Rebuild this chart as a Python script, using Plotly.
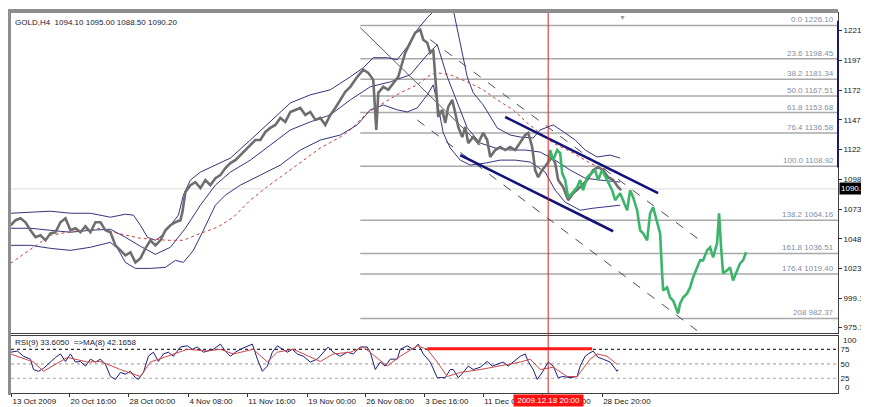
import plotly.graph_objects as go

# ---------------- data (bar index = H4 bar position on chart) ----------------
gray_x = [0, 5, 10, 15, 20, 25, 30, 35, 40, 45, 50, 55, 60, 65, 70, 75, 80, 85, 90, 95, 100,
          105, 110, 115, 120, 125, 130, 135, 140, 145, 150, 155, 160, 165, 170, 172, 175, 180,
          185, 190, 195, 200, 205, 210, 215, 220, 225, 230, 235, 240, 245, 250, 255, 260, 265,
          270, 275, 280, 285, 290, 295, 300, 305, 310, 315, 320, 325, 330, 335, 340, 347, 353,
          358, 363, 366, 368, 373, 378, 383, 388, 392, 395, 400, 405, 410, 413, 417, 420, 423,
          426, 428, 432, 435, 438, 442, 445, 448, 452, 455, 458, 463, 468, 473, 477, 480, 485,
          490, 495, 500, 505, 510, 515, 518, 522, 525, 528, 532, 537, 542, 545, 548, 553, 558,
          563, 570, 577, 583, 588, 593, 598, 603, 608, 611]
gray_y = [1059.9, 1064.1, 1065.7, 1062.4, 1055.7, 1049.9, 1051.6, 1047.4, 1053.2, 1054.1, 1062.4,
          1065.7, 1055.7, 1057.4, 1054.1, 1059.1, 1054.1, 1062.4, 1062.4, 1055.7, 1054.1, 1043.2,
          1039.0, 1034.9, 1037.4, 1029.0, 1032.4, 1040.7, 1047.4, 1043.2, 1047.4, 1055.7, 1059.9,
          1062.4, 1064.1, 1070.8, 1087.5, 1093.3, 1095.8, 1090.8, 1097.5, 1093.3, 1099.1, 1101.6,
          1107.5, 1111.6, 1114.1, 1118.3, 1122.5, 1126.7, 1130.8, 1130.8, 1137.5, 1140.9, 1143.4,
          1149.2, 1145.9, 1154.2, 1155.9, 1157.5, 1151.7, 1154.2, 1147.5, 1149.2, 1143.4, 1151.7,
          1157.5, 1164.2, 1170.9, 1175.1, 1183.4, 1189.3, 1186.7, 1180.9, 1139.2, 1170.1, 1175.1,
          1172.6, 1178.4, 1183.4, 1195.1, 1203.4, 1211.8, 1220.1, 1222.6, 1214.3, 1211.8, 1203.4,
          1206.0, 1172.6, 1150.0, 1155.9, 1145.0, 1158.4, 1164.2, 1153.4, 1141.7, 1133.3, 1141.7,
          1128.3, 1133.3, 1128.3, 1136.7, 1130.8, 1116.7, 1122.5, 1125.0, 1122.5, 1125.0, 1122.5,
          1128.3, 1135.0, 1136.7, 1125.0, 1105.8, 1099.9, 1105.8, 1111.6, 1116.7, 1111.6, 1097.5,
          1091.6, 1080.8, 1086.6, 1091.6, 1097.5, 1105.8, 1108.3, 1105.8, 1099.9, 1097.5, 1091.6,
          1089.1]

green_x = [538, 540, 543, 547, 550, 552, 555, 558, 562, 567, 570, 573, 577, 582, 585, 588, 592,
           597, 600, 602, 605, 610, 617, 620, 623, 627, 630, 633, 637, 640, 643, 647, 650, 652,
           653, 657, 660, 663, 667, 668, 670, 673, 677, 680, 683, 687, 690, 693, 697, 700, 703,
           707, 709, 711, 713, 717, 720, 723, 727, 730, 733, 736]
green_y = [1111.6, 1122.5, 1114.1, 1122.5, 1120.0, 1103.3, 1097.5, 1083.3, 1086.6, 1091.6, 1097.5,
           1089.1, 1099.9, 1103.3, 1105.8, 1097.5, 1105.8, 1097.5, 1091.6, 1089.1, 1080.8, 1086.6,
           1072.4, 1089.1, 1083.3, 1072.4, 1055.7, 1053.2, 1047.4, 1069.9, 1074.9, 1061.6, 1053.2,
           1019.9, 1005.7, 1008.2, 999.8, 997.3, 989.0, 986.5, 994.8, 999.8, 1003.2, 1008.2,
           1016.5, 1024.9, 1030.7, 1030.7, 1039.0, 1041.6, 1033.2, 1044.9, 1069.9, 1041.6, 1019.9,
           1022.4, 1024.9, 1014.0, 1022.4, 1028.2, 1030.7, 1037.4]

bb_up_x = [0, 20, 40, 60, 80, 100, 115, 123, 130, 137, 145, 152, 160, 168, 173, 180, 190, 205,
           220, 240, 260, 280, 300, 320, 340, 353, 363, 377, 387, 397, 407, 417, 427, 435, 443,
           447, 453, 457, 463, 473, 487, 500, 510, 523, 530, 543, 555, 565, 575, 587, 600, 610]
bb_up_y = [1069.9, 1070.8, 1071.6, 1069.9, 1069.9, 1066.6, 1069.1, 1068.3, 1059.9, 1049.9, 1047.4,
           1051.6, 1059.9, 1068.3, 1085.0, 1097.5, 1104.1, 1110.0, 1115.8, 1130.8, 1145.9, 1161.7,
           1168.4, 1172.6, 1183.4, 1190.9, 1199.3, 1199.3, 1197.6, 1208.4, 1222.6, 1232.6, 1241.0,
           1247.7, 1239.3, 1222.6, 1200.1, 1183.4, 1170.1, 1160.0, 1140.9, 1135.0, 1133.3, 1132.5,
           1139.2, 1143.4, 1136.7, 1130.8, 1122.5, 1116.7, 1118.3, 1115.8]

bb_mid_x = [0, 20, 40, 60, 80, 100, 115, 130, 145, 160, 175, 190, 205, 220, 240, 260, 280, 300,
            320, 340, 360, 380, 400, 417, 427, 437, 447, 457, 470, 485, 500, 515, 530, 545, 560,
            575, 590, 610]
bb_mid_y = [1057.4, 1057.4, 1055.7, 1054.1, 1055.7, 1056.6, 1049.9, 1042.4, 1035.7, 1041.6, 1057.4,
            1076.6, 1093.3, 1104.1, 1114.1, 1126.7, 1139.2, 1145.9, 1151.7, 1164.2, 1175.1, 1179.2,
            1185.1, 1201.8, 1210.1, 1183.4, 1161.7, 1140.9, 1128.3, 1124.2, 1122.5, 1122.5, 1120.8,
            1114.1, 1105.8, 1099.1, 1097.5, 1095.8]

bb_low_x = [0, 20, 40, 60, 80, 100, 107, 115, 125, 140, 155, 165, 173, 183, 193, 205, 215, 230,
            250, 270, 290, 310, 330, 347, 360, 373, 387, 397, 407, 417, 423, 428, 433, 440, 450,
            460, 475, 490, 505, 520, 535, 545, 555, 570, 583, 593, 610]
bb_low_y = [1043.2, 1043.2, 1040.7, 1039.0, 1041.6, 1045.7, 1040.7, 1029.0, 1024.0, 1024.0, 1024.9,
            1030.7, 1029.0, 1039.0, 1055.7, 1076.6, 1085.0, 1093.3, 1101.6, 1110.0, 1122.5, 1130.8,
            1135.0, 1143.4, 1155.9, 1160.0, 1155.9, 1154.2, 1157.5, 1168.4, 1176.7, 1158.4, 1136.7,
            1124.2, 1114.1, 1110.0, 1111.6, 1114.1, 1114.1, 1112.5, 1104.1, 1089.1, 1079.1, 1072.4,
            1074.1, 1074.9, 1076.6]

ma_x = [0, 23, 40, 57, 90, 107, 130, 157, 173, 190, 207, 223, 240, 255, 270, 290, 310, 330, 340,
        357, 373, 390, 407, 420, 427, 440, 457, 473, 487, 503, 517, 530, 543, 563, 580, 590, 610]
ma_y = [1028.2, 1041.6, 1051.6, 1054.1, 1057.4, 1053.2, 1049.1, 1047.4, 1047.4, 1053.2, 1058.2,
        1066.6, 1080.8, 1090.8, 1099.9, 1112.5, 1124.2, 1133.3, 1139.2, 1153.4, 1161.7, 1170.1,
        1176.7, 1185.1, 1186.7, 1185.1, 1179.2, 1172.6, 1164.2, 1155.9, 1145.0, 1136.7, 1128.3,
        1120.0, 1111.6, 1107.5, 1104.1]

# Fibonacci retracement levels
fib_levels = ["0.0", "23.6", "38.2", "50.0", "61.8", "76.4", "100.0", "138.2", "161.8", "176.4", "208"]
fib_prices = [1226.10, 1198.45, 1181.34, 1167.51, 1153.68, 1136.58, 1108.92, 1064.16, 1036.51,
              1019.40, 982.37]
fib_start = 350

# channel / trend lines: (x0, y0, x1, y1)
channel_thick = [(495, 1150.0, 648, 1086.6), (450, 1118.3, 603, 1054.9)]
channel_dashed = [(420, 1214.3, 690, 1047.4), (407, 1147.5, 687, 972.3)]
trend_thin = [(350, 1224.3, 470, 1126.7)]

current_price = 1090.2
marker_bar = 538

price_ticks = [1221.8, 1197.1, 1172.3, 1147.6, 1122.8, 1098.1, 1073.3, 1048.6, 1023.8, 999.12, 975.12]
price_tick_text = ["1221.8", "1197.1", "1172.3", "1147.6", "1122.8", "1098.1", "1073.3", "1048.6",
                   "1023.8", "999.12", "975.12"]

date_ticks = [1, 59, 118, 178, 237, 297, 355, 414, 473, 532, 592]
date_labels = ["13 Oct 2009", "20 Oct 16:00", "28 Oct 00:00", "4 Nov 08:00", "11 Nov 16:00",
               "19 Nov 00:00", "26 Nov 08:00", "3 Dec 16:00", "11 Dec 00:00", "18 Dec 12:00",
               "28 Dec 20:00"]

rsi_x = [0, 7, 13, 20, 23, 28, 33, 40, 45, 50, 55, 60, 65, 70, 75, 80, 85, 90, 95, 100, 105, 110,
         115, 120, 125, 128, 133, 138, 143, 148, 153, 158, 163, 170, 177, 182, 187, 193, 198, 203,
         210, 215, 220, 225, 230, 237, 242, 247, 252, 257, 262, 267, 272, 277, 282, 287, 293, 300,
         307, 312, 318, 323, 330, 337, 343, 350, 357, 360, 365, 370, 375, 380, 387, 390, 397, 403,
         408, 413, 420, 427, 435, 440, 443, 448, 453, 458, 463, 470, 477, 482, 487, 493, 498, 503,
         510, 515, 518, 523, 527, 532, 538, 543, 548, 553, 560, 567, 570, 575, 578, 583, 588, 593,
         600, 607, 608]
rsi_y = [70, 72, 63, 58, 40, 37, 42, 53, 61, 67, 54, 67, 53, 54, 46, 58, 53, 58, 49, 28, 23, 35,
         32, 37, 26, 23, 35, 63, 70, 54, 67, 70, 63, 79, 81, 75, 79, 70, 72, 75, 84, 72, 63, 70,
         75, 81, 84, 58, 37, 46, 70, 81, 75, 70, 75, 67, 63, 53, 58, 67, 79, 70, 63, 70, 67, 79,
         79, 70, 40, 53, 46, 58, 58, 75, 81, 75, 84, 67, 53, 26, 26, 40, 40, 26, 35, 46, 40, 44,
         54, 46, 49, 53, 46, 53, 63, 67, 54, 40, 23, 35, 53, 46, 26, 28, 26, 28, 46, 63, 67, 72,
         61, 58, 53, 37, 40]

rsi_ma_x = [0, 23, 33, 57, 77, 90, 110, 130, 140, 157, 177, 197, 210, 223, 243, 257, 267, 283,
            300, 310, 323, 340, 353, 377, 390, 407, 417, 427, 437, 450, 470, 490, 510, 520, 530,
            543, 557, 567, 580, 587, 597, 607]
rsi_ma_y = [67, 53, 37, 61, 53, 54, 40, 28, 53, 63, 75, 72, 75, 67, 75, 53, 70, 75, 61, 54, 67,
            70, 79, 46, 63, 81, 75, 53, 28, 35, 40, 46, 53, 58, 40, 44, 28, 28, 58, 67, 63, 49]

rsi_levels = [75, 50, 25]
rsi_red_level = (417, 582, 76)

# ---------------- figure ----------------
# the page adds an 8 px body margin, so the figure is 8 px smaller than the window
FONT = "Liberation Sans"
X_RANGE = [0.5, 828]
W, H = 861, 399
ML, MR, MT, MB = 3, 31, 5, 14
PW, PH = W - ML - MR, H - MT - MB
fig = go.Figure()

# fib horizontal lines
fx, fy = [], []
for p in fib_prices:
    fx += [fib_start, X_RANGE[1], None]
    fy += [p, p, None]
fig.add_trace(go.Scatter(x=fx, y=fy, mode="lines", line=dict(color="#a9a9a9", width=1.5),
                         hoverinfo="skip", showlegend=False))
# current price line
fig.add_trace(go.Scatter(x=[X_RANGE[0], X_RANGE[1]], y=[current_price, current_price], mode="lines",
                         line=dict(color="#dcdcdc", width=1), hoverinfo="skip", showlegend=False))

# bollinger & MA
for bx, by in [(bb_up_x, bb_up_y), (bb_mid_x, bb_mid_y), (bb_low_x, bb_low_y)]:
    fig.add_trace(go.Scatter(x=bx, y=by, mode="lines", line=dict(color="#34347e", width=1),
                             showlegend=False))
fig.add_trace(go.Scatter(x=ma_x, y=ma_y, mode="lines", line=dict(color="#c8413a", width=1, dash="dot"),
                         showlegend=False))

# trend lines
for (x0, y0, x1, y1) in trend_thin:
    fig.add_trace(go.Scatter(x=[x0, x1], y=[y0, y1], mode="lines", line=dict(color="#555566", width=1),
                             showlegend=False))
for (x0, y0, x1, y1) in channel_dashed:
    fig.add_trace(go.Scatter(x=[x0, x1], y=[y0, y1], mode="lines",
                             line=dict(color="#4a4a6a", width=1, dash="dash"), showlegend=False))

# price
fig.add_trace(go.Scatter(x=gray_x, y=gray_y, mode="lines", line=dict(color="#6e6e6e", width=2.6),
                         showlegend=False))
fig.add_trace(go.Scatter(x=green_x, y=green_y, mode="lines", line=dict(color="#3cb46a", width=2.6),
                         showlegend=False))

for (x0, y0, x1, y1) in channel_thick:
    fig.add_trace(go.Scatter(x=[x0, x1], y=[y0, y1], mode="lines", line=dict(color="#12127a", width=2.6),
                             showlegend=False))

# RSI panel
fig.add_trace(go.Scatter(x=rsi_x, y=rsi_y, mode="lines", line=dict(color="#1c1c7c", width=1),
                         xaxis="x2", yaxis="y2", showlegend=False))
fig.add_trace(go.Scatter(x=rsi_ma_x, y=rsi_ma_y, mode="lines", line=dict(color="#d04848", width=1),
                         xaxis="x2", yaxis="y2", showlegend=False))
fig.add_trace(go.Scatter(x=[rsi_red_level[0], rsi_red_level[1]], y=[rsi_red_level[2]] * 2, mode="lines",
                         line=dict(color="#ff1a1a", width=3), xaxis="x2", yaxis="y2", showlegend=False))

shapes = []
for i, lv in enumerate(rsi_levels):
    shapes.append(dict(type="line", xref="x2", yref="y2", x0=X_RANGE[0], x1=X_RANGE[1], y0=lv, y1=lv,
                       line=dict(color="#333333" if i == 0 else "#aaaaaa", width=1.2, dash="dot"),
                       layer="below"))
# red vertical marker line over both panels
shapes.append(dict(type="line", xref="x", yref="paper", x0=marker_bar, x1=marker_bar, y0=0, y1=1,
                   line=dict(color="#e02020", width=1)))
# window frame (top/left gray bars)
shapes.append(dict(type="line", xref="paper", yref="paper", x0=-3 / PW, x1=1.0, y0=1 + 2 / PH, y1=1 + 2 / PH,
                   line=dict(color="#8e8e8e", width=4)))
shapes.append(dict(type="line", xref="paper", yref="paper", x0=-1.5 / PW, x1=-1.5 / PW, y0=-2 / PH,
                   y1=1 + 4 / PH, line=dict(color="#8e8e8e", width=3)))
# navy selection bar on price scale
shapes.append(dict(type="line", xref="paper", yref="y", x0=1.0, x1=1.0, y0=1230, y1=1108,
                   line=dict(color="#1a1a70", width=2)))

annotations = []
for lv, p in zip(fib_levels, fib_prices):
    annotations.append(dict(x=X_RANGE[1] - 2, y=p, xref="x", yref="y", text=f"{lv} {p:.2f}",
                            showarrow=False, xanchor="right", yanchor="bottom", yshift=-1,
                            font=dict(family=FONT, size=8, color="#8090a4")))
annotations.append(dict(x=0, y=1, xref="paper", yref="paper", text="GOLD,H4  1094.10 1095.00 1088.50 1090.20",
                        showarrow=False, xanchor="left", yanchor="top", xshift=2, yshift=-3,
                        font=dict(family=FONT, size=8, color="#202040")))
annotations.append(dict(x=0, y=0.15, xref="paper", yref="paper", text="RSI(9) 33.6050  =>MA(8) 42.1658",
                        showarrow=False, xanchor="left", yanchor="top", xshift=2, yshift=0,
                        font=dict(family=FONT, size=8, color="#202040")))
annotations.append(dict(x=1, y=current_price, xref="paper", yref="y", text="1090.2",
                        showarrow=False, xanchor="left", yanchor="middle", xshift=1, bgcolor="#000000",
                        borderpad=1, font=dict(family=FONT, size=8, color="#ffffff")))
annotations.append(dict(x=marker_bar, y=0, xref="x", yref="paper", text=" 2009.12.18 20:00 ",
                        showarrow=False, xanchor="center", yanchor="top", yshift=-1, bgcolor="#ff1010",
                        borderpad=1, font=dict(family=FONT, size=8, color="#ffffff")))
annotations.append(dict(x=1, y=0.15, xref="paper", yref="paper", text="100", showarrow=False,
                        xanchor="left", yanchor="top", xshift=3, yshift=2,
                        font=dict(family=FONT, size=8, color="#202020")))
annotations.append(dict(x=1, y=0, xref="paper", yref="paper", text="0", showarrow=False,
                        xanchor="left", yanchor="bottom", xshift=5, yshift=-1,
                        font=dict(family=FONT, size=8, color="#202020")))
annotations.append(dict(x=612, y=1, xref="x", yref="paper", text="▼", showarrow=False,
                        yanchor="top", yshift=1, font=dict(family=FONT, size=7, color="#9a9a9a")))

axis_common = dict(showgrid=False, zeroline=False, showline=True, mirror=True, linecolor="#404040",
                   linewidth=1, automargin=False)
fig.update_layout(
    width=W, height=H,
    margin=dict(l=ML, r=MR, t=MT, b=MB),
    paper_bgcolor="#ffffff", plot_bgcolor="#ffffff",
    font=dict(family=FONT, size=8, color="#202020"),
    showlegend=False,
    xaxis=dict(domain=[0, 1], anchor="y", range=X_RANGE, showticklabels=False, ticks="", **axis_common),
    yaxis=dict(domain=[0.158, 1], anchor="x", side="right", range=[970.3, 1236.5], tickvals=price_ticks,
               ticktext=price_tick_text, ticks="outside", ticklen=3, tickcolor="#303030",
               tickfont=dict(family=FONT, size=8, color="#202020"), **axis_common),
    xaxis2=dict(domain=[0, 1], anchor="y2", range=X_RANGE, tickvals=date_ticks, ticktext=date_labels,
                ticks="outside", ticklen=3, tickcolor="#303030", ticklabelposition="outside right",
                tickangle=0, tickfont=dict(family=FONT, size=8, color="#202020"), **axis_common),
    yaxis2=dict(domain=[0, 0.15], anchor="x2", side="right", range=[-0.5, 98], tickvals=rsi_levels,
                ticks="", tickfont=dict(family=FONT, size=8, color="#202020"), **axis_common),
    shapes=shapes, annotations=annotations,
)

fig.write_html("out.html")
